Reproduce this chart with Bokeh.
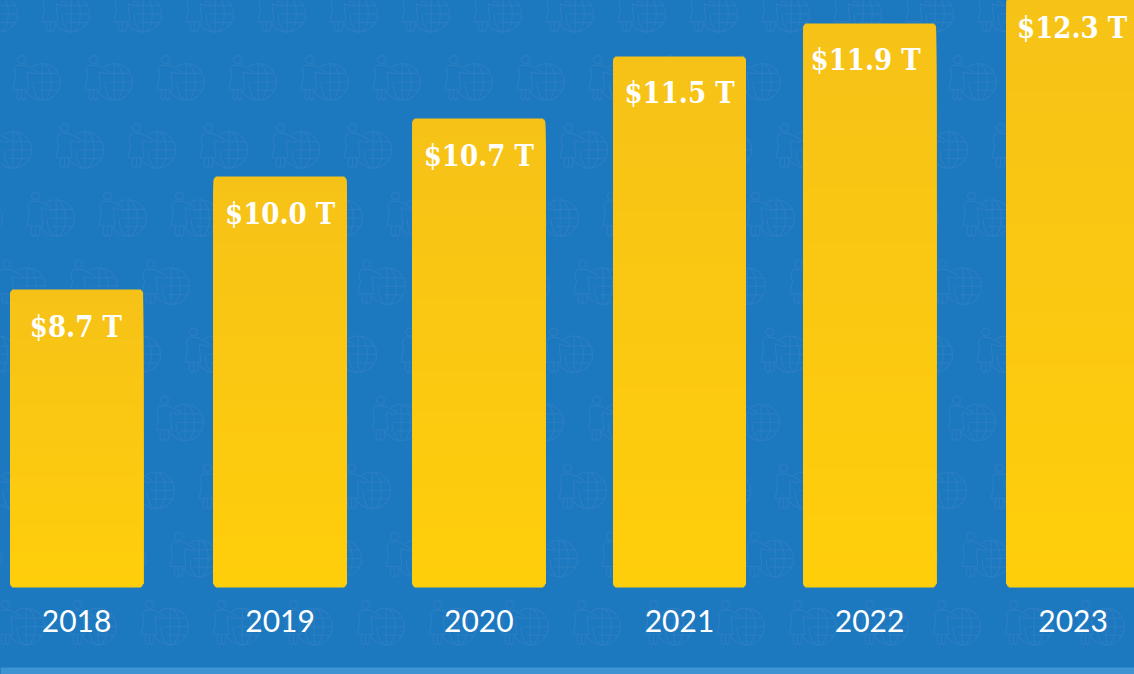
import math
from bokeh.embed import file_html
from bokeh.resources import INLINE
from bokeh.plotting import figure
from bokeh.models import Range1d
from bokeh.core.properties import value

# ---- data ----
years = ["2018", "2019", "2020", "2021", "2022", "2023"]
labels = ["$8.7 T", "$10.0 T", "$10.7 T", "$11.5 T", "$11.9 T", "$12.3 T"]
amounts = [8.70, 10.07, 10.77, 11.53, 11.93, 12.32]

# ---- layout and style ----
W, H = 1134, 674
BASE = 5.09            # value sitting on the bars' baseline (truncated scale)
PX_PER_T = 82.5
BASE_PX = 587
PX_PER_SLOT = 199.3
FIRST_SLOT_PX = 76.5
slot_nudge = [-0.002, 0.019, 0.016, 0.023, -0.023, -0.002]
label_nudge = [-0.004, 0.0, 0.0, 0.0, -0.02, -0.005]
BAR_W = 0.667
RADIUS = 4
BG, STRIPE, ICON = "#1c78bf", "#3e94d2", "#2b7ec2"
TOP_RGB, BOTTOM_RGB = (246, 194, 24), (255, 206, 11)

y0 = BASE - (H - BASE_PX) / PX_PER_T
y1 = BASE + BASE_PX / PX_PER_T
x0 = -FIRST_SLOT_PX / PX_PER_SLOT
x1 = x0 + W / PX_PER_SLOT

p = figure(width=W, height=H, x_range=Range1d(x0, x1), y_range=Range1d(y0, y1),
           output_backend="svg", toolbar_location=None, min_border=0,
           x_axis_location=None, y_axis_location=None,
           background_fill_color=BG, border_fill_color=BG, outline_line_color=None)
p.grid.visible = False
p.extra_x_ranges["px"] = Range1d(0, W)
p.extra_y_ranges["px"] = Range1d(H, 0)

# ---- background motif: a person beside a globe, repeated on a slanted lattice ----
def person(hx, hy):
    s = lambda pts: ([hx + (a - 63) / 3 for a, _ in pts], [hy + (b - 178) / 3 for _, b in pts])
    body = [(50, 195), (75, 195), (105, 210), (112, 215), (108, 222), (80, 215), (85, 268),
            (38, 268), (45, 230), (40, 205), (50, 195)]
    leg1 = [(50, 268), (50, 292), (57, 300), (63, 294), (63, 268)]
    leg2 = [(63, 294), (69, 300), (76, 292), (76, 268)]
    head = [(63 + 12 * math.cos(t / 8 * math.pi), 178 + 12 * math.sin(t / 8 * math.pi)) for t in range(17)]
    return [s(body), s(leg1), s(leg2), s(head)]

def globe(hx, hy):
    cx, cy, r = hx + 20.7, hy + 22.3, 18.3
    out = []
    arc = [math.radians(a) for a in range(-125, 150, 8)] + [math.radians(150)]
    out.append(([cx + r * math.cos(a) for a in arc], [cy + r * math.sin(a) for a in arc]))
    out.append(([cx - 6, cx + r], [cy, cy]))
    for dy in (-8.5, 8.5):
        half = math.sqrt(r * r - dy * dy)
        out.append(([cx - 4, cx + half], [cy + dy, cy + dy]))
    out.append(([cx, cx], [cy - r, cy + r]))
    for k in (-0.5, 0.5):
        ts = [math.radians(a) for a in range(-90, 91, 15)]
        pts = [(cx + k * r * math.cos(a), cy + r * math.sin(a)) for a in ts]
        if k < 0:
            pts = pts[6:]
        out.append(([a for a, _ in pts], [b for _, b in pts]))
    return out

xs, ys = [], []
for row in range(0, 11):
    hy = -9 + 68.1 * row
    start = (50 - 29 * row) % 72 - 72
    hx = start
    while hx < W + 10:
        for px, py in person(hx, hy) + globe(hx, hy):
            xs.append(px)
            ys.append(py)
        hx += 72
p.multi_line(xs, ys, line_color=ICON, line_width=1.3,
             x_range_name="px", y_range_name="px")

# ---- strip at the foot of the page ----
p.quad(left=[0], right=[W], top=[667], bottom=[H], fill_color=STRIPE, line_color=None,
       x_range_name="px", y_range_name="px")

# ---- bars: vertical gradient with rounded corners, built from nested bands ----
L, R, T, B, C = [], [], [], [], []
def inset_at(mid, h):
    d = max(RADIUS - mid, mid - (h - RADIUS), 0)
    return (RADIUS - math.sqrt(max(RADIUS ** 2 - d ** 2, 0))) / PX_PER_SLOT if d > 0 else 0.0

def band(cx, lo, hi, colour_at, h):
    ins = inset_at(colour_at, h)
    f = colour_at / h
    rgb = [round(b + (t - b) * f) for t, b in zip(TOP_RGB, BOTTOM_RGB)]
    L.append(cx - BAR_W / 2 + ins)
    R.append(cx + BAR_W / 2 - ins)
    B.append(BASE + lo / PX_PER_T)
    T.append(BASE + hi / PX_PER_T)
    C.append("#%02x%02x%02x" % tuple(rgb))

for i, amt in enumerate(amounts):
    cx = i + slot_nudge[i]
    h = round((amt - BASE) * PX_PER_T)
    # from the top downwards: each band reaches down to the lower corners and is overpainted
    for k in range(h - 1, h - RADIUS - 1, -1):
        band(cx, RADIUS, k + 1, k + 0.5, h)
    for k in range(h - RADIUS - 1, RADIUS, -3):
        band(cx, RADIUS, k + 1, k - 0.5, h)
    # lower corners: narrowest first, each covered above by the next
    for k in range(0, RADIUS + 1):
        band(cx, k, RADIUS + 3, k + 0.5, h)
p.quad(left=L, right=R, top=T, bottom=B, fill_color=C, line_color=None)

# ---- texts ----
p.text(x=[i + slot_nudge[i] + label_nudge[i] for i in range(6)], y=amounts, text=labels,
       text_font=value("DejaVu Serif Condensed"), text_font_style="bold",
       text_font_size="29px", text_color="#ffffff", text_align="center",
       text_baseline="middle", y_offset=37)
p.text(x=[i + slot_nudge[i] for i in range(6)], y=[BASE] * 6, text=years,
       text_font=value("Lato"), text_font_size="30px", text_color="#ffffff",
       text_align="center", text_baseline="middle", y_offset=33)

html = file_html(p, INLINE).replace(
    "<head>", "<head><style>html,body{margin:0;padding:0;overflow:hidden;background:%s}</style>" % BG, 1)
open("out.html", "w").write(html)
